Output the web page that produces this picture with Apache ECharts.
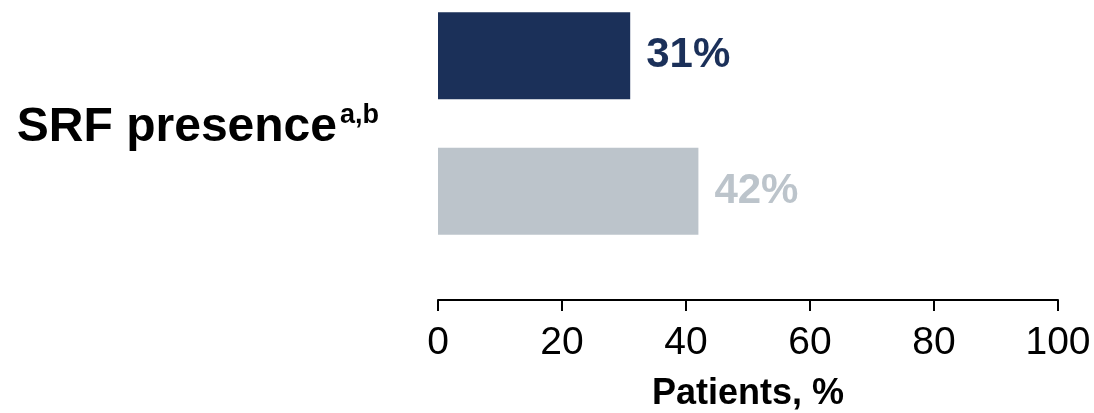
<!DOCTYPE html>
<html>
<head>
<meta charset="utf-8">
<script src="https://cdn.jsdelivr.net/npm/echarts@6/dist/echarts.min.js"></script>
<style>
  html, body { margin: 0; padding: 0; background: #ffffff; }
  #chart { width: 1094px; height: 413px; }
</style>
</head>
<body>
<div id="chart"></div>
<script>
// Share of patients with subretinal fluid, two treatment groups
const categories = ['SRF presence'];
const groupA = [31];
const groupB = [42];
const xTicks = [0, 20, 40, 60, 80, 100];

const navy = '#1B3059';
const grey = '#BCC4CB';
const font = '"Liberation Sans", Arial, sans-serif';

const chart = echarts.init(document.getElementById('chart'), null, { renderer: 'canvas' });

chart.setOption({
  animation: false,
  backgroundColor: '#ffffff',
  grid: { left: 438, right: 36, top: 0, height: 247, outerBoundsMode: 'none', containLabel: false },
  xAxis: {
    type: 'value',
    min: xTicks[0],
    max: xTicks[xTicks.length - 1],
    interval: 20,
    offset: 53,
    splitLine: { show: false },
    axisLine: { show: true, lineStyle: { color: '#000', width: 2 } },
    axisTick: { show: true, length: 11, lineStyle: { color: '#000', width: 2 } },
    axisLabel: {
      margin: 24,
      fontFamily: font,
      fontSize: 39,
      color: '#000',
      formatter: v => String(v)
    },
    name: 'Patients, %',
    nameLocation: 'middle',
    nameGap: 76,
    nameTextStyle: { fontFamily: font, fontSize: 36, fontWeight: 'bold', color: '#000' }
  },
  yAxis: {
    type: 'category',
    inverse: true,
    data: categories,
    axisLine: { show: false },
    axisTick: { show: false },
    axisLabel: {
      margin: 59,
      align: 'right',
      padding: [8, 0, 0, 0],
      formatter: v => '{main|' + v + '}{sup|a,b}',
      rich: {
        main: { fontFamily: font, fontSize: 48, fontWeight: 'bold', color: '#000', lineHeight: 50 },
        sup: { fontFamily: font, fontSize: 27, fontWeight: 'bold', color: '#000', verticalAlign: 'top', lineHeight: 50, padding: [0, 0, 10, 3] }
      }
    }
  },
  series: [
    {
      type: 'bar',
      data: groupA,
      barWidth: 87,
      barGap: '56%',
      itemStyle: { color: navy },
      label: {
        show: true,
        position: 'right',
        distance: 16,
        formatter: p => p.value + '%',
        fontFamily: font,
        fontSize: 42,
        fontWeight: 'bold',
        color: navy
      }
    },
    {
      type: 'bar',
      data: groupB,
      barWidth: 87,
      barGap: '56%',
      itemStyle: { color: grey },
      label: {
        show: true,
        position: 'right',
        distance: 16,
        formatter: p => p.value + '%',
        fontFamily: font,
        fontSize: 42,
        fontWeight: 'bold',
        color: grey
      }
    }
  ]
});
</script>
</body>
</html>
